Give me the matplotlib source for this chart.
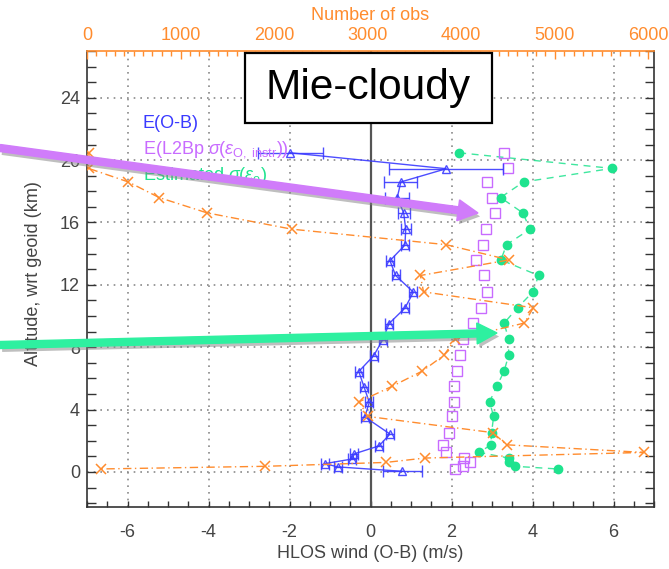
import matplotlib
matplotlib.use('Agg')
import matplotlib.pyplot as plt
import matplotlib.transforms as mtransforms
import matplotlib.patheffects as pe
from matplotlib.patches import FancyArrow, Rectangle
from matplotlib.ticker import MultipleLocator

plt.rcParams['font.family'] = ['Liberation Sans', 'DejaVu Sans']
plt.rcParams['mathtext.fontset'] = 'custom'
plt.rcParams['mathtext.rm'] = 'Liberation Sans'
plt.rcParams['mathtext.it'] = 'Liberation Sans:italic'
plt.rcParams['axes.unicode_minus'] = False

# ---------------- data ----------------
alt_omb = [20.47, 19.45, 18.6, 17.6, 16.6, 15.57, 14.55, 13.55, 12.6, 11.53, 10.51, 9.52,
           8.47, 7.46, 6.44, 5.46, 4.46, 3.53, 2.43, 1.67, 1.16, 0.83, 0.53, 0.32, 0.04]
omb_mean = [-1.98, 1.87, 0.75, 0.66, 0.82, 0.87, 0.85, 0.48, 0.62, 1.06, 0.85, 0.46,
            0.30, 0.08, -0.29, -0.16, -0.03, -0.14, 0.48, 0.21, -0.40, -0.45, -1.13, -0.80, 0.79]
omb_err = [0.80, 1.41, 0.41, 0.29, 0.15, 0.12, 0.10, 0.10, 0.10, 0.10, 0.10, 0.10,
           0.10, 0.10, 0.10, 0.10, 0.10, 0.10, 0.10, 0.10, 0.10, 0.10, 0.10, 0.10, 0.48]

alt_lev = [20.47, 19.47, 18.6, 17.6, 16.62, 15.57, 14.58, 13.6, 12.6, 11.55, 10.53, 9.55,
           8.5, 7.48, 6.47, 5.5, 4.5, 3.56, 2.52, 1.74, 1.25, 0.89, 0.61, 0.36, 0.19]
l2bp_sigma = [3.30, 3.40, 2.88, 3.01, 3.08, 2.85, 2.79, 2.60, 2.80, 2.88, 2.72, 2.54,
              2.29, 2.21, 2.13, 2.05, 2.06, 2.02, 1.94, 1.80, 1.86, 2.32, 2.46, 2.29, 2.09]
est_sigma = [2.19, 5.96, 3.78, 3.21, 3.76, 3.94, 3.36, 3.22, 4.15, 4.01, 3.63, 3.30,
             3.41, 3.41, 3.30, 3.12, 2.94, 3.04, 2.99, 2.97, 2.69, 3.41, 3.43, 3.57, 4.62]
n_obs = [22, 17, 442, 771, 1281, 2190, 3836, 4511, 3563, 3597, 4770, 4675,
         3935, 3814, 3584, 3264, 2909, 3000, 4338, 4485, 5952, 3610, 3195, 1905, 147]

legend_labels = ['E(O-B)',
                 r'E(L2Bp $\sigma(\varepsilon_{\mathrm{O,\ instr}})$)',
                 r'Estimated $\sigma(\varepsilon_{\mathrm{o}})$']
title_box = 'Mie-cloudy'

# ---------------- style ----------------
W, H = 669, 569
C_BLUE = '#3a3aff'
C_PURP = '#c86bff'
C_GREEN = '#1ee38e'
C_ORNG = '#ff8c2e'
C_AX = '#333333'
FS = 13

fig = plt.figure(figsize=(W / 100, H / 100), dpi=100)
ax = fig.add_axes([87 / W, 1 - 507 / H, (654 - 87) / W, (507 - 51) / H])
pix = mtransforms.Affine2D().scale(1, -1).translate(0, H)

ax.set_xlim(-7, 7)
ax.set_ylim(-2.25, 27)
ax.xaxis.set_major_locator(MultipleLocator(2))
ax.xaxis.set_minor_locator(MultipleLocator(0.5))
ax.yaxis.set_major_locator(MultipleLocator(4))
ax.yaxis.set_minor_locator(MultipleLocator(1))
ax.grid(which='major', linestyle=(0, (1, 3)), color='#8a8a8a', linewidth=1.2)
ax.tick_params(axis='x', which='both', direction='in', length=4, width=1, colors=C_AX,
               labelsize=FS, pad=12, top=False, bottom=True, labelcolor='#444444')
ax.tick_params(axis='y', which='both', direction='in', length=6.5, width=1, colors=C_AX,
               labelsize=FS, pad=5, left=True, right=True, labelcolor='#444444')
for s in ['left', 'bottom', 'right']:
    ax.spines[s].set_color(C_AX)
    ax.spines[s].set_linewidth(1.2)
ax.spines['top'].set_visible(False)

ax.axvline(0, color='#555555', linewidth=1.6, zorder=2)

# E(O-B)
ax.errorbar(omb_mean, alt_omb, xerr=omb_err, color=C_BLUE, linewidth=1.0,
            marker='^', markersize=6, markerfacecolor='none', markeredgewidth=1.0,
            elinewidth=1.0, capsize=4, capthick=1.0, zorder=5, alpha=0.9)
# L2Bp sigma
ax.plot(l2bp_sigma, alt_lev, linestyle='none', marker='s', markersize=7.5,
        markerfacecolor='none', markeredgecolor=C_PURP, markeredgewidth=1.0, zorder=4)
# Estimated sigma
ax.plot(est_sigma, alt_lev, color=C_GREEN, linestyle=(0, (5, 4)), linewidth=1.0,
        alpha=0.85, zorder=3)
ax.plot(est_sigma, alt_lev, linestyle='none', marker='o', markersize=6,
        color=C_GREEN, zorder=4)

# Number of obs on top axis
ax2 = ax.twiny()
ax2.set_xlim(0, 6060)
ax2.plot(n_obs, alt_lev, color=C_ORNG, linestyle=(0, (6, 2.5, 1, 2.5)), linewidth=1.0,
         marker='x', markersize=7, markeredgewidth=1.1, zorder=4)
ax2.xaxis.set_major_locator(MultipleLocator(1000))
ax2.xaxis.set_minor_locator(MultipleLocator(100))
ax2.tick_params(axis='x', which='major', direction='in', length=6, width=1, colors=C_ORNG,
                labelsize=FS, pad=5)
ax2.tick_params(axis='x', which='minor', direction='in', length=3.5, width=1, colors=C_ORNG)
for s in ['left', 'bottom', 'right']:
    ax2.spines[s].set_visible(False)
ax2.spines['top'].set_color(C_ORNG)
ax2.spines['top'].set_linewidth(1.2)

# axis labels
fig.text(370, 554, 'HLOS wind (O-B) (m/s)', transform=pix, ha='center', va='center',
         fontsize=FS, color='#444444')
fig.text(34, 274, 'Altitude, wrt geoid (km)', transform=pix, ha='center', va='center',
         rotation=90, fontsize=FS, color='#444444')
fig.text(370, 15, 'Number of obs', transform=pix, ha='center', va='center',
         fontsize=FS, color=C_ORNG)

# legend-like text
for lab, col, yy in zip(legend_labels, [C_BLUE, C_PURP, C_GREEN], [123, 150, 176]):
    fig.text(143, yy, lab, transform=pix, ha='left', va='center', fontsize=FS, color=col)

# Mie-cloudy box
box = Rectangle((245, 53), 247, 70, transform=pix, facecolor='white', edgecolor='black',
                linewidth=1.6, zorder=6)
fig.add_artist(box)
fig.text(368.5, 88, title_box, transform=pix, ha='center', va='center', fontsize=30.5,
         color='black', zorder=7)

# annotation arrows
shadow = [pe.SimplePatchShadow(offset=(1.5, -2.5), shadow_rgbFace='#808080', alpha=0.5),
          pe.Normal()]
arr1 = FancyArrow(0, 148, 478, 65, width=7, head_width=21, head_length=20,
                  length_includes_head=True, transform=pix, color='#d07cfa',
                  zorder=8, path_effects=shadow)
arr2 = FancyArrow(0, 345, 497, -12, width=7, head_width=21, head_length=20,
                  length_includes_head=True, transform=pix, color='#2ef0a0',
                  zorder=8, path_effects=shadow)
fig.add_artist(arr1)
fig.add_artist(arr2)

fig.savefig('out.png', dpi=100)
